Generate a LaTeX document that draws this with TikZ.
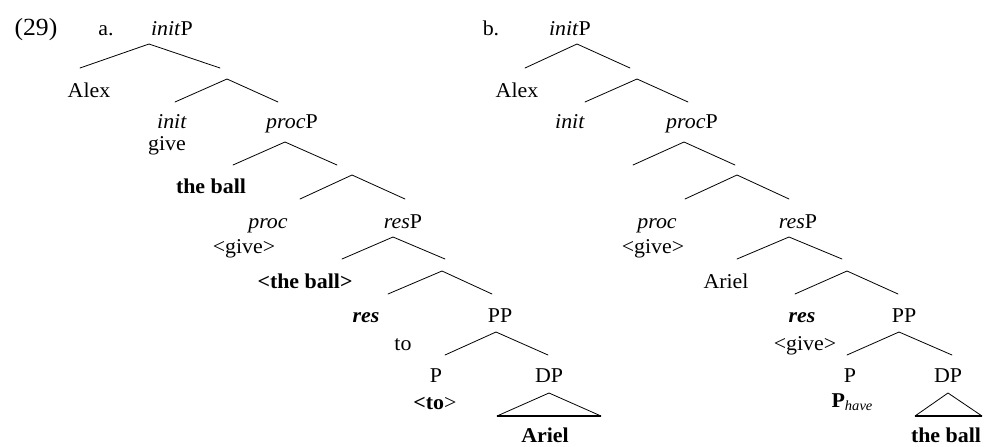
\documentclass[tikz,border=0pt]{standalone}
\usepackage{fontspec}
\setmainfont{Liberation Serif}[FakeStretch=1.04]
\begin{document}
\begin{tikzpicture}[x=0.75pt,y=-0.75pt,
  lbl/.style={inner sep=0pt, anchor=base, font=\fontsize{15.8}{18}\selectfont},
  edge/.style={line width=0.6pt, line cap=round},
  tribase/.style={line width=0.9pt}]
\useasboundingbox (0,0) rectangle (984,446);
% ---------- tree a ----------
\node[lbl, font=\fontsize{18.5}{20}\selectfont] (ex) at (36,35) {(29)};
\node[lbl] (la) at (106,35) {a.};
\node[lbl] (aroot) at (172,35) {\textit{init}P};
\node[lbl] (aalex) at (89,97) {Alex};
\node[lbl] (ainit) at (172,128) {\textit{init}};
\node[lbl] (agive) at (167,150) {give};
\node[lbl] (aprocP) at (292,128) {\textit{proc}P};
\node[lbl] (aball) at (211,193) {\textbf{the ball}};
\node[lbl] (aproc) at (268,228) {\textit{proc}};
\node[lbl] (agive2) at (244,253) {<give>};
\node[lbl] (aresP) at (403,228) {\textit{res}P};
\node[lbl] (aball2) at (305,288) {\textbf{<the ball>}};
\node[lbl] (ares) at (366,322) {\textbf{\textit{res}}};
\node[lbl] (ato) at (403,350) {to};
\node[lbl] (aPP) at (500,322) {PP};
\node[lbl] (aP) at (436,382) {P};
\node[lbl] (ato2) at (435,409) {\textbf{<to}>};
\node[lbl] (aDP) at (549,382) {DP};
\node[lbl] (aariel) at (545,442) {\textbf{Ariel}};
\coordinate (a1t) at (149,44); \coordinate (a1l) at (80,68);  \coordinate (a1r) at (220,68);
\coordinate (a2t) at (227,79); \coordinate (a2l) at (175,102); \coordinate (a2r) at (278,102);
\coordinate (a3t) at (285,142); \coordinate (a3l) at (233,165); \coordinate (a3r) at (337,165);
\coordinate (a4t) at (352,175); \coordinate (a4l) at (300,199); \coordinate (a4r) at (405,199);
\coordinate (a5t) at (393,237); \coordinate (a5l) at (342,259); \coordinate (a5r) at (445,259);
\coordinate (a6t) at (442,271); \coordinate (a6l) at (388,294); \coordinate (a6r) at (492,294);
\coordinate (a7t) at (496,332); \coordinate (a7l) at (445,355); \coordinate (a7r) at (548,355);
\coordinate (a8t) at (549,393); \coordinate (a8l) at (497,416); \coordinate (a8r) at (601,416);
\foreach \n in {1,...,7} {\draw[edge] (a\n l) -- (a\n t) -- (a\n r);}
\draw[edge] (a8l) -- (a8t) -- (a8r);
\draw[tribase] (a8l) -- (a8r);
% ---------- tree b ----------
\node[lbl] (lb) at (491,35) {b.};
\node[lbl] (broot) at (570,35) {\textit{init}P};
\node[lbl] (balex) at (517,97) {Alex};
\node[lbl] (binit) at (570,128) {\textit{init}};
\node[lbl] (bprocP) at (692,128) {\textit{proc}P};
\node[lbl] (bproc) at (657,228) {\textit{proc}};
\node[lbl] (bgive) at (653,253) {<give>};
\node[lbl] (bresP) at (798,228) {\textit{res}P};
\node[lbl] (bariel) at (726,288) {Ariel};
\node[lbl] (bres) at (802,322) {\textbf{\textit{res}}};
\node[lbl] (bgive2) at (805,350) {<give>};
\node[lbl] (bPP) at (904,322) {PP};
\node[lbl] (bP) at (850,382) {P};
\node[lbl] (bPhave) at (852,407) {\textbf{P}\raisebox{-0.35ex}{\fontsize{10.5}{12}\selectfont\itshape have}};
\node[lbl] (bDP) at (948,382) {DP};
\node[lbl] (bball) at (946,442) {\textbf{the ball}};
\coordinate (b1t) at (577,44); \coordinate (b1l) at (525,68);  \coordinate (b1r) at (630,68);
\coordinate (b2t) at (637,79); \coordinate (b2l) at (585,102); \coordinate (b2r) at (688,102);
\coordinate (b3t) at (684,142); \coordinate (b3l) at (633,165); \coordinate (b3r) at (735,165);
\coordinate (b4t) at (737,175); \coordinate (b4l) at (685,199); \coordinate (b4r) at (789,199);
\coordinate (b5t) at (789,237); \coordinate (b5l) at (737,259); \coordinate (b5r) at (842,259);
\coordinate (b6t) at (847,271); \coordinate (b6l) at (795,294); \coordinate (b6r) at (898,294);
\coordinate (b7t) at (899,332); \coordinate (b7l) at (847,355); \coordinate (b7r) at (952,355);
\coordinate (b8t) at (948,393); \coordinate (b8l) at (915,416); \coordinate (b8r) at (982,416);
\foreach \n in {1,...,7} {\draw[edge] (b\n l) -- (b\n t) -- (b\n r);}
\draw[edge] (b8l) -- (b8t) -- (b8r);
\draw[tribase] (b8l) -- (b8r);
\end{tikzpicture}
\end{document}
